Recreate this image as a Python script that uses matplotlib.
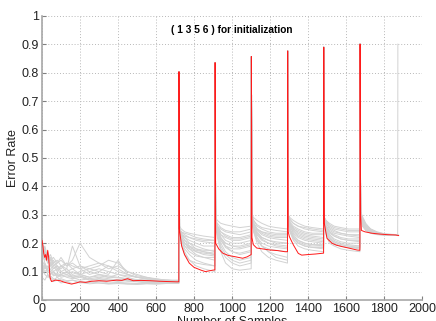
import matplotlib
matplotlib.use("Agg")
import matplotlib.pyplot as plt

plt.rcParams['font.family'] = ['Liberation Sans', 'DejaVu Sans']

title_text = "( 1 3 5 6 ) for initialization"
x_label = "Number of Samples"
y_label = "Error Rate"
x_ticks = [0, 200, 400, 600, 800, 1000, 1200, 1400, 1600, 1800, 2000]
y_ticks = [0, 0.1, 0.2, 0.3, 0.4, 0.5, 0.6, 0.7, 0.8, 0.9, 1.0]
y_tick_labels = ["0", "0.1", "0.2", "0.3", "0.4", "0.5", "0.6", "0.7", "0.8", "0.9", "1"]

# segment (new block) start positions and peak error at each start
seg_starts = [721, 911, 1102, 1293, 1483, 1674]
seg_ends = [910, 1101, 1292, 1482, 1673, 1872]
peaks = [0.804, 0.836, 0.857, 0.877, 0.890, 0.901]
seg_offsets = [3, 12, 30, 55, 90, 130]
final_gray_peak = 0.901

# first block sample positions
x_first = [0, 15, 30, 45, 60, 80, 100, 130, 160, 200, 250, 300, 350, 400, 450,
           500, 550, 600, 650, 700, 720]

gray_first = [
    [0.19, 0.17, 0.15, 0.12, 0.13, 0.11, 0.12, 0.10, 0.11, 0.09, 0.10, 0.09, 0.08, 0.09, 0.08, 0.07, 0.07, 0.07, 0.065, 0.065, 0.065],
    [0.15, 0.18, 0.14, 0.16, 0.13, 0.14, 0.12, 0.13, 0.11, 0.12, 0.10, 0.11, 0.10, 0.09, 0.085, 0.08, 0.075, 0.07, 0.07, 0.068, 0.068],
    [0.12, 0.10, 0.11, 0.09, 0.10, 0.08, 0.09, 0.08, 0.075, 0.08, 0.07, 0.075, 0.07, 0.065, 0.07, 0.065, 0.06, 0.062, 0.06, 0.062, 0.062],
    [0.20, 0.16, 0.13, 0.15, 0.12, 0.13, 0.15, 0.12, 0.14, 0.20, 0.15, 0.13, 0.12, 0.10, 0.09, 0.08, 0.075, 0.07, 0.068, 0.066, 0.066],
    [0.10, 0.13, 0.09, 0.08, 0.07, 0.08, 0.07, 0.065, 0.07, 0.06, 0.065, 0.06, 0.058, 0.06, 0.057, 0.056, 0.058, 0.057, 0.058, 0.06, 0.06],
    [0.17, 0.14, 0.16, 0.13, 0.11, 0.12, 0.10, 0.11, 0.09, 0.10, 0.11, 0.12, 0.14, 0.13, 0.10, 0.085, 0.08, 0.075, 0.07, 0.07, 0.07],
    [0.14, 0.12, 0.10, 0.11, 0.09, 0.095, 0.085, 0.09, 0.08, 0.085, 0.075, 0.08, 0.075, 0.07, 0.072, 0.068, 0.066, 0.064, 0.063, 0.064, 0.064],
    [0.18, 0.15, 0.17, 0.14, 0.15, 0.13, 0.14, 0.12, 0.13, 0.11, 0.12, 0.13, 0.11, 0.12, 0.10, 0.09, 0.08, 0.072, 0.07, 0.068, 0.068],
    [0.11, 0.09, 0.08, 0.085, 0.075, 0.07, 0.075, 0.068, 0.07, 0.065, 0.062, 0.066, 0.06, 0.062, 0.06, 0.058, 0.06, 0.059, 0.06, 0.061, 0.061],
    [0.16, 0.19, 0.15, 0.12, 0.14, 0.12, 0.11, 0.13, 0.12, 0.11, 0.09, 0.10, 0.09, 0.14, 0.09, 0.08, 0.074, 0.07, 0.066, 0.065, 0.065],
    [0.13, 0.11, 0.12, 0.10, 0.085, 0.09, 0.08, 0.085, 0.08, 0.07, 0.075, 0.07, 0.068, 0.07, 0.066, 0.064, 0.062, 0.06, 0.062, 0.06, 0.06],
    [0.09, 0.12, 0.10, 0.09, 0.10, 0.085, 0.09, 0.10, 0.085, 0.09, 0.08, 0.085, 0.08, 0.078, 0.075, 0.07, 0.068, 0.066, 0.064, 0.063, 0.063],
    [0.21, 0.17, 0.14, 0.12, 0.10, 0.11, 0.09, 0.10, 0.08, 0.085, 0.07, 0.075, 0.07, 0.072, 0.068, 0.066, 0.064, 0.062, 0.063, 0.062, 0.062],
    [0.14, 0.16, 0.13, 0.14, 0.12, 0.10, 0.12, 0.11, 0.19, 0.12, 0.11, 0.10, 0.12, 0.11, 0.09, 0.08, 0.078, 0.074, 0.07, 0.068, 0.068],
    [0.08, 0.07, 0.09, 0.07, 0.065, 0.07, 0.06, 0.065, 0.058, 0.062, 0.057, 0.06, 0.056, 0.058, 0.056, 0.055, 0.057, 0.056, 0.058, 0.058, 0.058],
    [0.17, 0.13, 0.11, 0.13, 0.11, 0.12, 0.10, 0.09, 0.10, 0.09, 0.08, 0.09, 0.085, 0.08, 0.075, 0.072, 0.07, 0.068, 0.066, 0.065, 0.065],
]

gray_seg2 = [
    [0.26, 0.25, 0.24, 0.235, 0.23, 0.225, 0.22],
    [0.25, 0.24, 0.235, 0.23, 0.22, 0.215, 0.21],
    [0.25, 0.23, 0.21, 0.20, 0.19, 0.18, 0.17],
    [0.24, 0.22, 0.20, 0.18, 0.16, 0.15, 0.14],
    [0.25, 0.24, 0.23, 0.22, 0.21, 0.205, 0.20],
    [0.24, 0.21, 0.18, 0.16, 0.14, 0.13, 0.12],
    [0.25, 0.23, 0.22, 0.21, 0.20, 0.19, 0.19],
    [0.25, 0.22, 0.19, 0.17, 0.155, 0.15, 0.15],
    [0.24, 0.20, 0.17, 0.14, 0.12, 0.11, 0.10],
    [0.25, 0.24, 0.22, 0.20, 0.18, 0.17, 0.16],
    [0.24, 0.22, 0.20, 0.19, 0.17, 0.16, 0.155],
    [0.25, 0.23, 0.225, 0.22, 0.215, 0.21, 0.21],
    [0.24, 0.21, 0.19, 0.18, 0.17, 0.165, 0.16],
    [0.25, 0.23, 0.21, 0.19, 0.18, 0.175, 0.175],
    [0.24, 0.20, 0.16, 0.14, 0.13, 0.125, 0.12],
    [0.25, 0.22, 0.20, 0.185, 0.175, 0.17, 0.165],
]

gray_seg3 = [
    [0.29, 0.28, 0.27, 0.265, 0.26, 0.255, 0.26],
    [0.28, 0.26, 0.24, 0.23, 0.22, 0.22, 0.23],
    [0.27, 0.24, 0.21, 0.19, 0.18, 0.18, 0.19],
    [0.28, 0.25, 0.22, 0.20, 0.19, 0.19, 0.20],
    [0.27, 0.23, 0.18, 0.15, 0.13, 0.12, 0.13],
    [0.28, 0.26, 0.25, 0.24, 0.235, 0.23, 0.24],
    [0.27, 0.22, 0.17, 0.13, 0.11, 0.105, 0.11],
    [0.28, 0.25, 0.23, 0.21, 0.20, 0.20, 0.21],
    [0.27, 0.24, 0.20, 0.17, 0.15, 0.14, 0.15],
    [0.28, 0.27, 0.255, 0.245, 0.24, 0.24, 0.25],
    [0.27, 0.23, 0.19, 0.16, 0.14, 0.13, 0.14],
    [0.28, 0.26, 0.23, 0.22, 0.21, 0.21, 0.22],
    [0.27, 0.25, 0.22, 0.19, 0.17, 0.16, 0.17],
    [0.28, 0.26, 0.24, 0.225, 0.215, 0.215, 0.225],
    [0.27, 0.24, 0.21, 0.185, 0.17, 0.165, 0.175],
    [0.28, 0.25, 0.215, 0.20, 0.19, 0.185, 0.195],
]

gray_seg4 = [
    [0.30, 0.29, 0.28, 0.27, 0.26, 0.255, 0.25],
    [0.29, 0.27, 0.25, 0.24, 0.235, 0.23, 0.23],
    [0.28, 0.24, 0.20, 0.17, 0.15, 0.14, 0.13],
    [0.29, 0.26, 0.23, 0.21, 0.20, 0.195, 0.19],
    [0.30, 0.28, 0.265, 0.255, 0.25, 0.245, 0.24],
    [0.28, 0.25, 0.21, 0.19, 0.17, 0.16, 0.15],
    [0.29, 0.27, 0.245, 0.23, 0.22, 0.215, 0.21],
    [0.28, 0.24, 0.21, 0.19, 0.18, 0.175, 0.17],
    [0.29, 0.26, 0.22, 0.19, 0.17, 0.15, 0.14],
    [0.30, 0.28, 0.26, 0.25, 0.24, 0.235, 0.235],
    [0.28, 0.26, 0.235, 0.22, 0.21, 0.205, 0.20],
    [0.29, 0.27, 0.25, 0.235, 0.225, 0.22, 0.22],
    [0.28, 0.25, 0.22, 0.20, 0.19, 0.185, 0.18],
    [0.29, 0.26, 0.24, 0.22, 0.21, 0.20, 0.20],
    [0.28, 0.25, 0.23, 0.215, 0.20, 0.19, 0.185],
    [0.29, 0.27, 0.25, 0.24, 0.23, 0.225, 0.225],
]

gray_seg5 = [
    [0.30, 0.29, 0.28, 0.27, 0.26, 0.255, 0.25],
    [0.29, 0.27, 0.25, 0.24, 0.23, 0.225, 0.22],
    [0.28, 0.24, 0.21, 0.19, 0.18, 0.175, 0.17],
    [0.29, 0.26, 0.235, 0.22, 0.21, 0.205, 0.20],
    [0.30, 0.28, 0.27, 0.26, 0.25, 0.245, 0.24],
    [0.28, 0.25, 0.22, 0.20, 0.19, 0.185, 0.18],
    [0.29, 0.27, 0.25, 0.235, 0.225, 0.22, 0.215],
    [0.28, 0.24, 0.215, 0.20, 0.19, 0.185, 0.185],
    [0.29, 0.25, 0.23, 0.21, 0.20, 0.195, 0.19],
    [0.30, 0.285, 0.27, 0.26, 0.255, 0.25, 0.245],
    [0.28, 0.26, 0.24, 0.225, 0.215, 0.21, 0.205],
    [0.29, 0.27, 0.255, 0.245, 0.235, 0.23, 0.23],
    [0.28, 0.25, 0.225, 0.21, 0.20, 0.195, 0.195],
    [0.29, 0.265, 0.245, 0.23, 0.22, 0.215, 0.21],
    [0.28, 0.245, 0.22, 0.205, 0.195, 0.19, 0.19],
    [0.29, 0.275, 0.26, 0.25, 0.24, 0.235, 0.235],
]

gray_seg6 = [
    [0.29, 0.28, 0.27, 0.26, 0.255, 0.25, 0.25],
    [0.28, 0.26, 0.245, 0.235, 0.23, 0.225, 0.22],
    [0.27, 0.23, 0.20, 0.19, 0.18, 0.175, 0.17],
    [0.28, 0.25, 0.23, 0.215, 0.205, 0.20, 0.20],
    [0.29, 0.275, 0.26, 0.25, 0.245, 0.24, 0.24],
    [0.27, 0.24, 0.215, 0.20, 0.19, 0.185, 0.18],
    [0.28, 0.26, 0.24, 0.23, 0.22, 0.215, 0.215],
    [0.27, 0.235, 0.21, 0.195, 0.19, 0.185, 0.185],
    [0.28, 0.25, 0.225, 0.21, 0.20, 0.195, 0.19],
    [0.29, 0.28, 0.265, 0.255, 0.25, 0.245, 0.245],
    [0.28, 0.255, 0.235, 0.225, 0.215, 0.21, 0.205],
    [0.29, 0.27, 0.25, 0.24, 0.235, 0.23, 0.23],
    [0.27, 0.245, 0.22, 0.205, 0.195, 0.19, 0.19],
    [0.28, 0.26, 0.24, 0.225, 0.215, 0.21, 0.21],
    [0.27, 0.24, 0.215, 0.205, 0.195, 0.19, 0.185],
    [0.29, 0.27, 0.255, 0.245, 0.235, 0.23, 0.225],
]

gray_seg7 = [
    [0.31, 0.29, 0.26, 0.245, 0.235, 0.23, 0.228],
    [0.30, 0.28, 0.255, 0.24, 0.233, 0.23, 0.228],
    [0.29, 0.27, 0.25, 0.24, 0.232, 0.229, 0.227],
    [0.30, 0.285, 0.26, 0.245, 0.235, 0.231, 0.229],
    [0.31, 0.29, 0.265, 0.25, 0.238, 0.232, 0.229],
    [0.29, 0.265, 0.245, 0.235, 0.23, 0.228, 0.227],
    [0.30, 0.275, 0.255, 0.242, 0.234, 0.23, 0.228],
    [0.29, 0.27, 0.25, 0.238, 0.232, 0.229, 0.227],
    [0.30, 0.28, 0.26, 0.245, 0.236, 0.231, 0.228],
    [0.31, 0.295, 0.27, 0.25, 0.24, 0.233, 0.23],
    [0.29, 0.27, 0.25, 0.24, 0.233, 0.23, 0.228],
    [0.30, 0.285, 0.265, 0.25, 0.238, 0.232, 0.229],
    [0.29, 0.26, 0.245, 0.236, 0.231, 0.229, 0.227],
    [0.30, 0.28, 0.26, 0.245, 0.235, 0.231, 0.229],
    [0.29, 0.265, 0.25, 0.24, 0.233, 0.23, 0.228],
    [0.30, 0.28, 0.255, 0.242, 0.234, 0.23, 0.228],
]

# red (highlighted) run
red_x = [0, 5, 9, 14, 19, 24, 30, 35, 42, 50, 70, 95, 120, 156, 180, 200, 230, 260,
         300, 340, 393, 420, 450, 480, 520, 568, 620, 660, 709, 720,
         721,
         723, 735, 750, 775, 800, 837, 860, 898, 910,
         911,
         914, 930, 951, 980, 1012, 1056, 1080, 1101,
         1102,
         1105, 1112, 1130, 1160, 1200, 1240, 1279, 1292,
         1293,
         1296, 1302, 1323, 1349, 1367, 1400, 1440, 1482,
         1483,
         1486, 1491, 1500, 1526, 1550, 1579, 1620, 1658, 1673,
         1674,
         1677, 1681, 1700, 1737, 1780, 1820, 1860, 1877]
red_y = [0.21, 0.19, 0.165, 0.15, 0.16, 0.14, 0.175, 0.15, 0.08, 0.065, 0.07, 0.068, 0.062,
         0.056, 0.06, 0.064, 0.062, 0.066, 0.068, 0.066, 0.07, 0.069, 0.075, 0.068, 0.069,
         0.068, 0.066, 0.065, 0.064, 0.064,
         0.804,
         0.25, 0.19, 0.16, 0.13, 0.115, 0.105, 0.10, 0.105, 0.106,
         0.836,
         0.20, 0.18, 0.165, 0.157, 0.153, 0.147, 0.152, 0.16,
         0.857,
         0.22, 0.195, 0.183, 0.18, 0.176, 0.174, 0.17, 0.17,
         0.877,
         0.24, 0.223, 0.194, 0.164, 0.158, 0.16, 0.162, 0.165,
         0.890,
         0.27, 0.25, 0.217, 0.20, 0.193, 0.188, 0.182, 0.176, 0.175,
         0.901,
         0.30, 0.245, 0.24, 0.235, 0.232, 0.23, 0.229, 0.227]

gray_color = "#d2d2d2"
red_color = "#ff1a1a"

fig = plt.figure(figsize=(4.36, 3.21), dpi=100)
ax = fig.add_axes([42 / 436, 21 / 321, 380 / 436, 284 / 321])

later = [gray_seg2, gray_seg3, gray_seg4, gray_seg5, gray_seg6, gray_seg7]
for r in range(len(gray_first)):
    xs = list(x_first)
    ys = list(gray_first[r])
    for s in range(len(seg_starts)):
        b = seg_starts[s]
        xs.append(b)
        ys.append(peaks[s])
        pos = [b + o for o in seg_offsets] + [seg_ends[s]]
        xs.extend(pos)
        ys.extend(later[s][r])
    if r == 0:
        xs.append(seg_ends[-1] + 1)
        ys.append(final_gray_peak)
    ax.plot(xs, ys, color=gray_color, lw=0.7, zorder=2)

ax.plot(red_x, red_y, color=red_color, lw=0.7, zorder=3)

ax.set_xlim(0, 2000)
ax.set_ylim(0, 1)
ax.set_xticks(x_ticks)
ax.set_yticks(y_ticks)
ax.set_yticklabels(y_tick_labels)
ax.grid(True, linestyle=(0, (1, 2)), color="#b8b8b8", lw=0.7)
ax.set_axisbelow(True)
for side in ["top", "right"]:
    ax.spines[side].set_visible(False)
for side in ["left", "bottom"]:
    ax.spines[side].set_color("#a8a8a8")
    ax.spines[side].set_linewidth(1.2)
ax.tick_params(direction="in", length=3, color="#808080", labelsize=9,
               labelcolor="#222222", pad=2)

ax.text(0.5, 0.95, title_text, transform=ax.transAxes, ha="center", va="center",
        fontsize=7.3, fontweight="bold")
ax.set_xlabel(x_label, fontsize=9, labelpad=1, color="#222222")
ax.set_ylabel(y_label, fontsize=9, labelpad=2, color="#222222")

fig.savefig("out.png", dpi=100)
